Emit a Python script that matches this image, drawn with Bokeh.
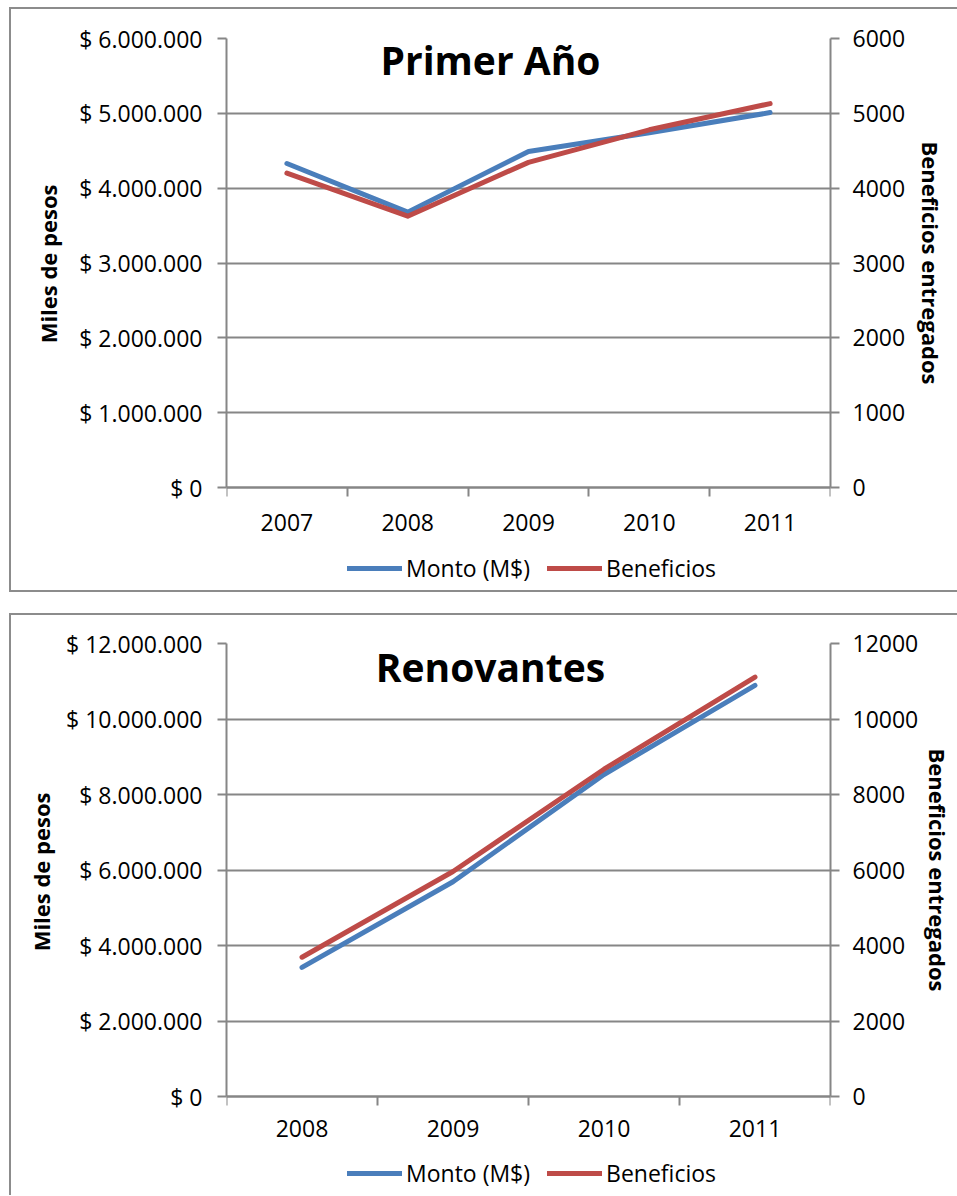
from bokeh.plotting import figure
from bokeh.models import (Range1d, LinearAxis, FixedTicker, Legend, LegendItem,
                          Label, Title, ColumnDataSource)
from bokeh.layouts import column
from bokeh.embed import file_html
from bokeh.resources import INLINE

# ---------------- data ----------------
years_1 = ["2007", "2008", "2009", "2010", "2011"]
monto_1 = [4330000, 3680000, 4490000, 4740000, 5010000]
benef_1 = [4200, 3625, 4345, 4780, 5130]
left_ticks_1 = [0, 1000000, 2000000, 3000000, 4000000, 5000000, 6000000]
left_labels_1 = ["$ 0", "$ 1.000.000", "$ 2.000.000", "$ 3.000.000",
                 "$ 4.000.000", "$ 5.000.000", "$ 6.000.000"]
right_ticks_1 = [0, 1000, 2000, 3000, 4000, 5000, 6000]
right_labels_1 = ["0", "1000", "2000", "3000", "4000", "5000", "6000"]

years_2 = ["2008", "2009", "2010", "2011"]
monto_2 = [3420000, 5690000, 8530000, 10890000]
benef_2 = [3690, 5960, 8670, 11110]
left_ticks_2 = [0, 2000000, 4000000, 6000000, 8000000, 10000000, 12000000]
left_labels_2 = ["$ 0", "$ 2.000.000", "$ 4.000.000", "$ 6.000.000",
                 "$ 8.000.000", "$ 10.000.000", "$ 12.000.000"]
right_ticks_2 = [0, 2000, 4000, 6000, 8000, 10000, 12000]
right_labels_2 = ["0", "2000", "4000", "6000", "8000", "10000", "12000"]

series_names = ["Monto (M$)", "Beneficios"]
left_title = "Miles de pesos"
right_title = "Beneficios entregados"

# ---------------- style ----------------
BLUE = "#4A7EBB"
RED = "#BE4B48"
GRID = "#868686"
FRAME = "#8C8C8C"
FONT = "Open Sans"


def style_axis(ax):
    ax.axis_line_color = GRID
    ax.axis_line_width = 2
    ax.major_tick_line_color = GRID
    ax.major_tick_line_width = 2
    ax.major_tick_in = 0
    ax.major_tick_out = 9
    ax.minor_tick_line_color = None
    ax.major_label_text_font = FONT
    ax.major_label_text_font_size = "23px"
    ax.major_label_text_color = "black"


def side_title(text, align, offset, standoff):
    return Title(text=text, align=align, offset=offset, standoff=standoff,
                 vertical_align="middle", text_font=FONT,
                 text_font_style="bold", text_font_size="22px",
                 text_color="black")


def make_chart(title, years, monto, benef, lticks, llabels, rticks, rlabels,
               height, top, plot_px, below_px, bottom_edge,
               left_off, left_so, right_off, right_so, x_standoff,
               legend_y, title_fy, margin_top):
    n = len(years)
    x = [i + 0.5 for i in range(n)]
    ymax = lticks[-1]
    rmax = rticks[-1]
    ext = below_px / plot_px          # room under zero for labels + legend
    src = ColumnDataSource(dict(x=x, monto=monto, benef=benef))
    p = figure(width=948, height=height,
               x_range=Range1d(0, n), y_range=Range1d(-ymax * ext, ymax),
               output_backend="svg", toolbar_location=None,
               min_border_left=217, min_border_right=127,
               min_border_top=top, min_border_bottom=0,
               outline_line_color=None,
               background_fill_color=None, border_fill_color=None)
    p.extra_y_ranges = {"ben": Range1d(-rmax * ext, rmax)}

    # x axis at value 0 (labels at category centres, ticks at boundaries)
    xa = p.xaxis[0]
    style_axis(xa)
    xa.fixed_location = 0
    xa.ticker = FixedTicker(ticks=x, minor_ticks=list(range(n + 1)))
    xa.major_label_overrides = {xi: y for xi, y in zip(x, years)}
    xa.major_tick_line_color = None
    xa.minor_tick_line_color = GRID
    xa.minor_tick_line_width = 2
    xa.minor_tick_in = 0
    xa.minor_tick_out = 9
    xa.major_label_standoff = x_standoff

    # left axis
    ya = p.yaxis[0]
    style_axis(ya)
    ya.bounds = (0, ymax)
    ya.ticker = FixedTicker(ticks=lticks)
    ya.major_label_overrides = {t: s for t, s in zip(lticks, llabels)}
    ya.major_label_standoff = 15
    p.add_layout(side_title(left_title, "right", left_off, left_so), "left")

    # right axis
    ra = LinearAxis(y_range_name="ben", ticker=FixedTicker(ticks=rticks),
                    bounds=(0, rmax))
    style_axis(ra)
    ra.major_label_overrides = {t: s for t, s in zip(rticks, rlabels)}
    ra.major_label_standoff = 13
    p.add_layout(ra, "right")
    p.add_layout(side_title(right_title, "left", right_off, right_so), "right")

    p.xgrid.visible = False
    p.ygrid.grid_line_color = GRID
    p.ygrid.grid_line_width = 2
    p.ygrid.ticker = FixedTicker(ticks=lticks)

    r1 = p.line("x", "monto", source=src, line_color=BLUE, line_width=5,
                line_cap="round", line_join="round")
    r2 = p.line("x", "benef", source=src, y_range_name="ben", line_color=RED,
                line_width=5, line_cap="round", line_join="round")

    legend = Legend(items=[LegendItem(label=series_names[0], renderers=[r1]),
                           LegendItem(label=series_names[1], renderers=[r2])],
                    orientation="horizontal", location=(121, legend_y),
                    glyph_width=55, glyph_height=20, label_standoff=4,
                    spacing=17, padding=0, margin=0,
                    border_line_color=None, background_fill_alpha=0,
                    label_text_font=FONT, label_text_font_size="23px",
                    label_text_color="black")
    p.add_layout(legend, "center")

    p.add_layout(Label(x=n * 0.437, y=ymax * title_fy, text=title,
                       text_align="center", text_baseline="alphabetic",
                       text_font=FONT, text_font_style="bold",
                       text_font_size="39px", text_color="black"))

    shadows = [f"inset 2px 0 0 {FRAME}", f"inset 0 2px 0 {FRAME}"]
    if bottom_edge:
        shadows.append(f"inset 0 -2px 0 {FRAME}")
    p.styles = {"box-shadow": ", ".join(shadows),
                "margin-left": "9px", "margin-top": f"{margin_top}px"}
    return p


p1 = make_chart("Primer Año", years_1, monto_1, benef_1, left_ticks_1,
                left_labels_1, right_ticks_1, right_labels_1,
                height=585, top=31, plot_px=449, below_px=105,
                bottom_edge=True, left_off=146, left_so=26,
                right_off=103, right_so=13, x_standoff=17, legend_y=8,
                title_fy=0.9539, margin_top=7)
p2 = make_chart("Renovantes", years_2, monto_2, benef_2, left_ticks_2,
                left_labels_2, right_ticks_2, right_labels_2,
                height=582, top=30, plot_px=453, below_px=99,
                bottom_edge=False, left_off=149, left_so=14,
                right_off=105, right_so=0, x_standoff=14, legend_y=6,
                title_fy=0.9492, margin_top=0)

layout = column(p1, p2, spacing=21)
open("out.html", "w").write(file_html(layout, INLINE, title="Primer Año / Renovantes"))
